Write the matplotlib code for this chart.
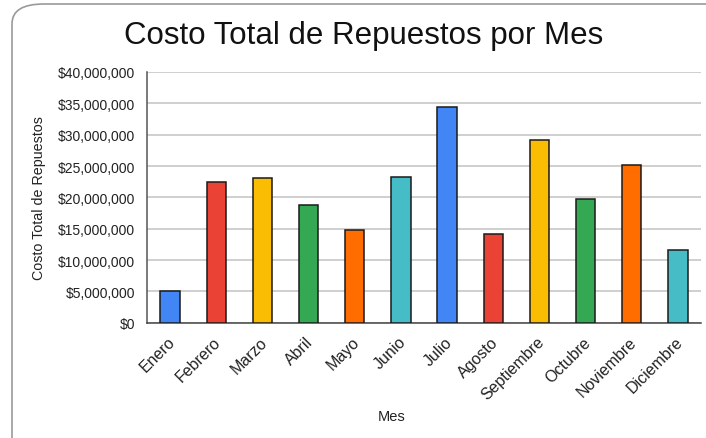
import matplotlib.pyplot as plt
import matplotlib.transforms as mtransforms
from matplotlib.patches import FancyBboxPatch
from matplotlib.ticker import FuncFormatter

# Datos
meses = ['Enero', 'Febrero', 'Marzo', 'Abril', 'Mayo', 'Junio', 'Julio',
         'Agosto', 'Septiembre', 'Octubre', 'Noviembre', 'Diciembre']
costos = [5.0e6, 22.4e6, 23.1e6, 18.85e6, 14.85e6, 23.3e6, 34.4e6,
          14.2e6, 29.2e6, 19.8e6, 25.2e6, 11.55e6]
colores = ['#4285F4', '#EA4335', '#FBBC04', '#34A853', '#FF6D01', '#46BDC6'] * 2

plt.rcParams['font.family'] = ['Liberation Sans', 'DejaVu Sans']

fig = plt.figure(figsize=(7.06, 4.39), dpi=100)
ax = fig.add_axes([147 / 706, 1 - 323.7 / 439, 554 / 706, 250.7 / 439])

# Marco redondeado (se sale por la derecha y por abajo)
marco = FancyBboxPatch((12 / 706, -0.1), 1.2, (439 - 5) / 439 + 0.1,
                       boxstyle='round,pad=0,rounding_size=0.045',
                       transform=fig.transFigure, facecolor='none',
                       edgecolor='#9a9a9a', linewidth=1.2, zorder=0)
fig.patches.append(marco)

x = range(len(meses))
ax.bar(x, costos, width=0.42, color=colores, edgecolor='#1a1a1a',
       linewidth=1.1, zorder=3)

ax.set_xlim(-0.5, len(meses) - 0.5)
ax.set_ylim(0, 40e6)
ax.set_yticks(range(0, 40000001, 5000000))
ax.yaxis.set_major_formatter(FuncFormatter(lambda v, p: f'${v:,.0f}'))

ax.set_xticks(list(x))
ax.set_xticklabels(meses, rotation=45, ha='right', rotation_mode='anchor')
ax.tick_params(axis='both', length=0, colors='#222222')
ax.tick_params(axis='x', pad=8, labelsize=11.5)
ax.tick_params(axis='y', pad=8.6, labelsize=10)

# pequeño corrimiento a la izquierda de las etiquetas del eje x
desplazamiento = mtransforms.ScaledTranslation(-3 / 100, 0, fig.dpi_scale_trans)
for etiqueta in ax.get_xticklabels():
    etiqueta.set_transform(etiqueta.get_transform() + desplazamiento)

# Cuadrícula horizontal
ax.grid(axis='y', color='#cccccc', linewidth=1.3, zorder=0)
for spine in ['top', 'right']:
    ax.spines[spine].set_visible(False)
ax.spines['left'].set_color('#555555')
ax.spines['bottom'].set_color('#444444')
ax.spines['left'].set_linewidth(1.1)
ax.spines['bottom'].set_linewidth(1.1)

# Títulos
fig.text(364 / 706, 1 - 36 / 439, 'Costo Total de Repuestos por Mes',
         ha='center', va='center', fontsize=22.5, color='#111111')
fig.text(39 / 706, 1 - 198 / 439, 'Costo Total de Repuestos', rotation=90,
         ha='center', va='center', fontsize=10.3, color='#222222')
fig.text(392 / 706, 1 - 417 / 439, 'Mes', ha='center', va='center',
         fontsize=10.5, color='#222222')

fig.savefig('out.png', dpi=100)
